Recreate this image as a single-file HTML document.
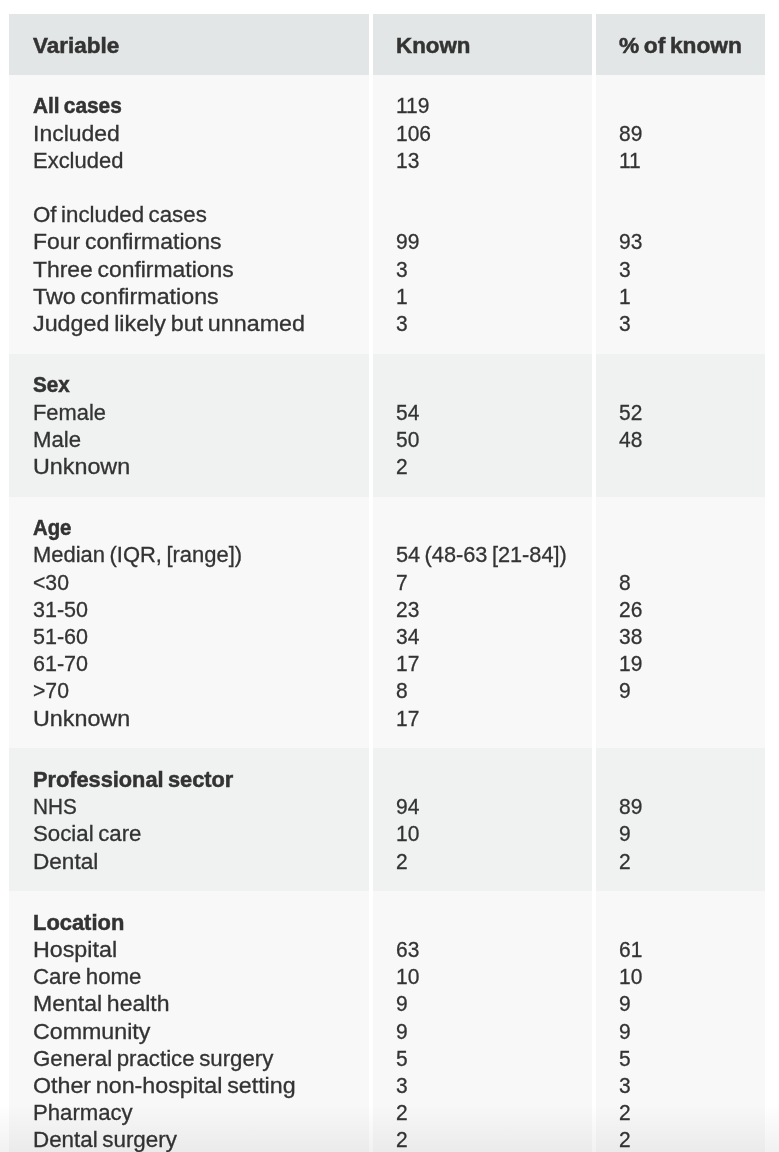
<!DOCTYPE html><html lang="en"><head><meta charset="utf-8"><title>Table</title><style>
html,body{margin:0;padding:0;background:#fff;}
body{width:779px;height:1152px;overflow:hidden;position:relative;font-family:"Liberation Sans",sans-serif;color:#333;font-size:21.5px;line-height:27.2px;}
.tbl{position:absolute;left:5.300000000000001px;top:14px;width:763.7px;border-collapse:separate;border-spacing:4px 0;table-layout:fixed;margin:0;}
.c{box-sizing:border-box;padding:17.1px 0 17.1px 23.5px;overflow:hidden;white-space:nowrap;text-align:left;vertical-align:top;font-weight:normal;}
.c1{width:359.7px;}
.c2{width:219px;}
.c3{width:169.0px;}
.c2,.c3{padding-left:22.8px;}
.hd .c{background:#e3e6e6;height:60.8px;padding-top:0;padding-bottom:0;line-height:60.8px;font-weight:bold;}
.hd .t{position:relative;top:2.0px;}
.odd .c{background:#f8f8f8;}
.even .c{background:#f0f2f2;}
.l{height:27.2px;position:relative;top:1.6px;}
.b{font-weight:bold;}
.b .t,.hd .t{-webkit-text-stroke:0.5px #333;}
.t{display:inline-block;transform-origin:0 50%;word-spacing:-1.6px;-webkit-text-stroke:0.3px #333;}
.shade{position:absolute;left:0;right:0;bottom:0;height:48px;background:linear-gradient(to bottom,rgba(0,0,0,0),rgba(0,0,0,0.055));pointer-events:none;}
</style></head><body>
<table class="tbl"><thead>
<tr class="row hd"><th class="c c1"><span class="t" style="transform:scaleX(1.0450)">Variable</span></th><th class="c c2"><span class="t" style="transform:scaleX(1.0386)">Known</span></th><th class="c c3"><span class="t" style="transform:scaleX(1.0574)">% of known</span></th></tr></thead><tbody>
<tr class="row odd"><td class="c c1"><div class="l b"><span class="t" style="transform:scaleX(0.9681)">All cases</span></div><div class="l"><span class="t" style="transform:scaleX(1.0686)">Included</span></div><div class="l"><span class="t" style="transform:scaleX(1.0217)">Excluded</span></div><div class="l">&nbsp;</div><div class="l"><span class="t" style="transform:scaleX(1.0363)">Of included cases</span></div><div class="l"><span class="t" style="transform:scaleX(1.0686)">Four confirmations</span></div><div class="l"><span class="t" style="transform:scaleX(1.0651)">Three confirmations</span></div><div class="l"><span class="t" style="transform:scaleX(1.0818)">Two confirmations</span></div><div class="l"><span class="t" style="transform:scaleX(1.0835)">Judged likely but unnamed</span></div></td><td class="c c2"><div class="l"><span class="t" style="transform:scaleX(0.9750)">119</span></div><div class="l"><span class="t" style="transform:scaleX(0.9750)">106</span></div><div class="l"><span class="t" style="transform:scaleX(0.9750)">13</span></div><div class="l">&nbsp;</div><div class="l">&nbsp;</div><div class="l"><span class="t" style="transform:scaleX(0.9750)">99</span></div><div class="l"><span class="t" style="transform:scaleX(0.9750)">3</span></div><div class="l"><span class="t" style="transform:scaleX(0.9750)">1</span></div><div class="l"><span class="t" style="transform:scaleX(0.9750)">3</span></div></td><td class="c c3"><div class="l">&nbsp;</div><div class="l"><span class="t" style="transform:scaleX(0.9750)">89</span></div><div class="l"><span class="t" style="transform:scaleX(0.9750)">11</span></div><div class="l">&nbsp;</div><div class="l">&nbsp;</div><div class="l"><span class="t" style="transform:scaleX(0.9750)">93</span></div><div class="l"><span class="t" style="transform:scaleX(0.9750)">3</span></div><div class="l"><span class="t" style="transform:scaleX(0.9750)">1</span></div><div class="l"><span class="t" style="transform:scaleX(0.9750)">3</span></div></td></tr>
<tr class="row even"><td class="c c1"><div class="l b"><span class="t" style="transform:scaleX(0.9592)">Sex</span></div><div class="l"><span class="t" style="transform:scaleX(1.0178)">Female</span></div><div class="l"><span class="t" style="transform:scaleX(1.0316)">Male</span></div><div class="l"><span class="t" style="transform:scaleX(1.0840)">Unknown</span></div></td><td class="c c2"><div class="l">&nbsp;</div><div class="l"><span class="t" style="transform:scaleX(0.9750)">54</span></div><div class="l"><span class="t" style="transform:scaleX(0.9750)">50</span></div><div class="l"><span class="t" style="transform:scaleX(0.9750)">2</span></div></td><td class="c c3"><div class="l">&nbsp;</div><div class="l"><span class="t" style="transform:scaleX(0.9750)">52</span></div><div class="l"><span class="t" style="transform:scaleX(0.9750)">48</span></div><div class="l">&nbsp;</div></td></tr>
<tr class="row odd"><td class="c c1"><div class="l b"><span class="t" style="transform:scaleX(0.9459)">Age</span></div><div class="l"><span class="t" style="transform:scaleX(1.0212)">Median (IQR, [range])</span></div><div class="l"><span class="t" style="transform:scaleX(0.9844)">&lt;30</span></div><div class="l"><span class="t" style="transform:scaleX(1.0011)">31-50</span></div><div class="l"><span class="t" style="transform:scaleX(1.0011)">51-60</span></div><div class="l"><span class="t" style="transform:scaleX(1.0011)">61-70</span></div><div class="l"><span class="t" style="transform:scaleX(0.9844)">&gt;70</span></div><div class="l"><span class="t" style="transform:scaleX(1.0840)">Unknown</span></div></td><td class="c c2"><div class="l">&nbsp;</div><div class="l"><span class="t" style="transform:scaleX(1.0114)">54 (48-63 [21-84])</span></div><div class="l"><span class="t" style="transform:scaleX(0.9750)">7</span></div><div class="l"><span class="t" style="transform:scaleX(0.9750)">23</span></div><div class="l"><span class="t" style="transform:scaleX(0.9750)">34</span></div><div class="l"><span class="t" style="transform:scaleX(0.9750)">17</span></div><div class="l"><span class="t" style="transform:scaleX(0.9750)">8</span></div><div class="l"><span class="t" style="transform:scaleX(0.9750)">17</span></div></td><td class="c c3"><div class="l">&nbsp;</div><div class="l">&nbsp;</div><div class="l"><span class="t" style="transform:scaleX(0.9750)">8</span></div><div class="l"><span class="t" style="transform:scaleX(0.9750)">26</span></div><div class="l"><span class="t" style="transform:scaleX(0.9750)">38</span></div><div class="l"><span class="t" style="transform:scaleX(0.9750)">19</span></div><div class="l"><span class="t" style="transform:scaleX(0.9750)">9</span></div><div class="l">&nbsp;</div></td></tr>
<tr class="row even"><td class="c c1"><div class="l b"><span class="t" style="transform:scaleX(1.0116)">Professional sector</span></div><div class="l"><span class="t" style="transform:scaleX(0.9648)">NHS</span></div><div class="l"><span class="t" style="transform:scaleX(1.0352)">Social care</span></div><div class="l"><span class="t" style="transform:scaleX(1.0504)">Dental</span></div></td><td class="c c2"><div class="l">&nbsp;</div><div class="l"><span class="t" style="transform:scaleX(0.9750)">94</span></div><div class="l"><span class="t" style="transform:scaleX(0.9750)">10</span></div><div class="l"><span class="t" style="transform:scaleX(0.9750)">2</span></div></td><td class="c c3"><div class="l">&nbsp;</div><div class="l"><span class="t" style="transform:scaleX(0.9750)">89</span></div><div class="l"><span class="t" style="transform:scaleX(0.9750)">9</span></div><div class="l"><span class="t" style="transform:scaleX(0.9750)">2</span></div></td></tr>
<tr class="row odd"><td class="c c1"><div class="l b"><span class="t" style="transform:scaleX(1.0187)">Location</span></div><div class="l"><span class="t" style="transform:scaleX(1.0820)">Hospital</span></div><div class="l"><span class="t" style="transform:scaleX(1.0352)">Care home</span></div><div class="l"><span class="t" style="transform:scaleX(1.0713)">Mental health</span></div><div class="l"><span class="t" style="transform:scaleX(1.0801)">Community</span></div><div class="l"><span class="t" style="transform:scaleX(1.0350)">General practice surgery</span></div><div class="l"><span class="t" style="transform:scaleX(1.0807)">Other non-hospital setting</span></div><div class="l"><span class="t" style="transform:scaleX(1.0298)">Pharmacy</span></div><div class="l"><span class="t" style="transform:scaleX(1.0410)">Dental surgery</span></div></td><td class="c c2"><div class="l">&nbsp;</div><div class="l"><span class="t" style="transform:scaleX(0.9750)">63</span></div><div class="l"><span class="t" style="transform:scaleX(0.9750)">10</span></div><div class="l"><span class="t" style="transform:scaleX(0.9750)">9</span></div><div class="l"><span class="t" style="transform:scaleX(0.9750)">9</span></div><div class="l"><span class="t" style="transform:scaleX(0.9750)">5</span></div><div class="l"><span class="t" style="transform:scaleX(0.9750)">3</span></div><div class="l"><span class="t" style="transform:scaleX(0.9750)">2</span></div><div class="l"><span class="t" style="transform:scaleX(0.9750)">2</span></div></td><td class="c c3"><div class="l">&nbsp;</div><div class="l"><span class="t" style="transform:scaleX(0.9750)">61</span></div><div class="l"><span class="t" style="transform:scaleX(0.9750)">10</span></div><div class="l"><span class="t" style="transform:scaleX(0.9750)">9</span></div><div class="l"><span class="t" style="transform:scaleX(0.9750)">9</span></div><div class="l"><span class="t" style="transform:scaleX(0.9750)">5</span></div><div class="l"><span class="t" style="transform:scaleX(0.9750)">3</span></div><div class="l"><span class="t" style="transform:scaleX(0.9750)">2</span></div><div class="l"><span class="t" style="transform:scaleX(0.9750)">2</span></div></td></tr>
</tbody></table><div class="shade"></div></body></html>
